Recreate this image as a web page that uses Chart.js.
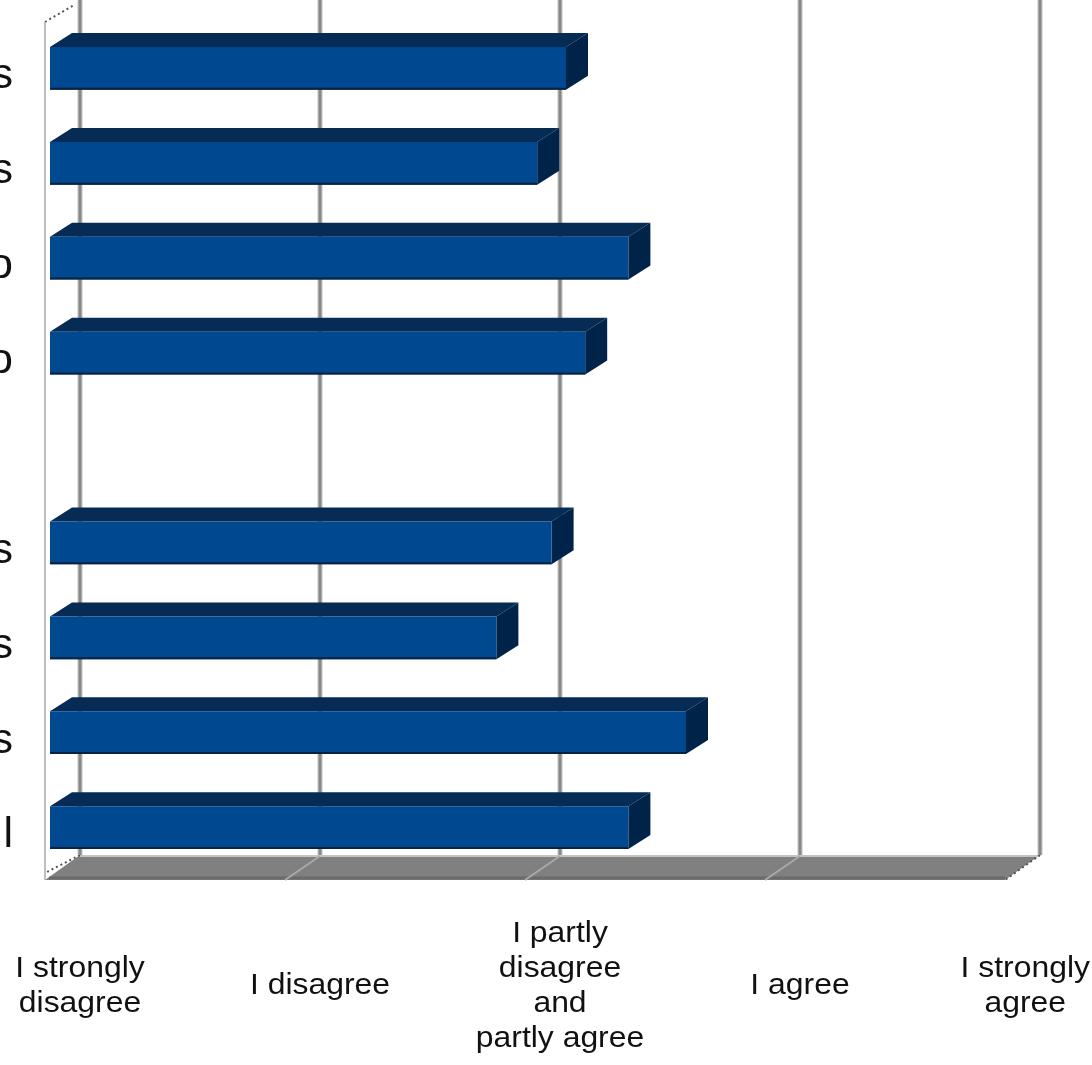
<!DOCTYPE html>
<html>
<head>
<meta charset="utf-8">
<title>Agreement ratings</title>
<script src="https://cdn.jsdelivr.net/npm/chart.js@4.4.1/dist/chart.umd.min.js"></script>
<style>
    html, body { margin: 0; padding: 0; background: #fff; }
    canvas { display: block; }
</style>
</head>
<body>
<canvas id="ratingChart" width="1092" height="1065"></canvas>
<script>
// ==========================================
// Data
// ==========================================
// statement labels (only their last letters fit at the left edge)
const statements = ["s", "s", "o", "o", "", "s", "s", "s", "l"];

// mean rating per statement, 1 = strongly disagree ... 5 = strongly agree
const meanRatings = [3.15, 3.03, 3.41, 3.23, null, 3.09, 2.86, 3.65, 3.41];

const scaleValues = [1, 2, 3, 4, 5];
const scaleLabels = [
    ["I strongly", "disagree"],
    ["I disagree"],
    ["I partly", "disagree", "and", "partly agree"],
    ["I agree"],
    ["I strongly", "agree"]
];

// ==========================================
// 3D look (walls, floor, bar sides)
// ==========================================
const WALL_DX = 30;     // back wall offset from the bar front plane
const WALL_DY = -20;
const FRONT_DX = -5;    // front edge of walls / floor
const FRONT_DY = 5;
const BAR_DX = 22;      // bar depth
const BAR_DY = -14;

const LABEL_MID = 986;
const LINE_H = 35;
const STRETCH = 1.1;

function poly(ctx, pts) {
    ctx.beginPath();
    ctx.moveTo(pts[0][0], pts[0][1]);
    for (let i = 1; i < pts.length; i++) ctx.lineTo(pts[i][0], pts[i][1]);
    ctx.closePath();
    ctx.fill();
}

function line(ctx, x1, y1, x2, y2) {
    ctx.beginPath();
    ctx.moveTo(x1, y1);
    ctx.lineTo(x2, y2);
    ctx.stroke();
}

const depthPlugin = {
    id: "depth",

    beforeDatasetsDraw(chart) {
        const ctx = chart.ctx;
        const area = chart.chartArea;
        const x = chart.scales.x;

        const backBottom = area.bottom + WALL_DY;
        const frontBottom = area.bottom + FRONT_DY;
        const leftBack = x.getPixelForValue(1) + WALL_DX;
        const leftFront = x.getPixelForValue(1) + FRONT_DX;
        const rightBack = x.getPixelForValue(5) + WALL_DX;
        const rightFront = x.getPixelForValue(5) + FRONT_DX;

        ctx.save();

        // floor
        ctx.fillStyle = "#808080";
        poly(ctx, [[leftBack, backBottom], [rightBack, backBottom],
                   [rightFront, frontBottom], [leftFront, frontBottom]]);
        ctx.strokeStyle = "#c4c4c4";
        ctx.lineWidth = 2;
        line(ctx, leftBack, backBottom + 1, rightBack, backBottom + 1);
        ctx.strokeStyle = "#6a6a6a";
        ctx.lineWidth = 3;
        line(ctx, leftFront + 4, frontBottom - 2, rightFront, frontBottom - 2);

        // floor divisions
        ctx.strokeStyle = "#a9a9a9";
        ctx.lineWidth = 2;
        scaleValues.slice(1, 4).forEach(v => {
            const px = x.getPixelForValue(v);
            line(ctx, px + WALL_DX, backBottom + 1, px + FRONT_DX, frontBottom);
        });

        // dotted side edges of the floor and left wall
        ctx.strokeStyle = "#555";
        ctx.lineWidth = 2;
        ctx.setLineDash([2, 3]);
        line(ctx, rightBack, backBottom, rightFront, frontBottom);
        line(ctx, leftBack, backBottom, leftFront + 2, frontBottom - 8);
        line(ctx, leftFront, area.top + 1, leftBack - 6, area.top - 16);
        ctx.setLineDash([]);

        // left wall front edge
        ctx.strokeStyle = "#a8a8a8";
        ctx.lineWidth = 1.5;
        line(ctx, leftFront, area.top + 1, leftFront, frontBottom);

        // back wall gridlines
        scaleValues.forEach(v => {
            const px = x.getPixelForValue(v) + WALL_DX;
            ctx.strokeStyle = "#c8c8c8";
            ctx.lineWidth = 5;
            line(ctx, px, 0, px, backBottom);
            ctx.strokeStyle = "#888";
            ctx.lineWidth = 3;
            line(ctx, px, 0, px, backBottom);
        });

        // top and right faces of each bar
        chart.getDatasetMeta(0).data.forEach((bar, i) => {
            if (meanRatings[i] === null) return;
            const p = bar.getProps(["x", "y", "base", "height"], true);
            const top = p.y - p.height / 2;
            const bottom = p.y + p.height / 2;

            ctx.fillStyle = "#062b55";
            poly(ctx, [[p.base, top], [p.base + BAR_DX, top + BAR_DY],
                       [p.x + BAR_DX, top + BAR_DY], [p.x, top]]);

            ctx.fillStyle = "#00234a";
            poly(ctx, [[p.x, top], [p.x + BAR_DX, top + BAR_DY],
                       [p.x + BAR_DX, bottom + BAR_DY], [p.x, bottom]]);
        });

        ctx.restore();
    },

    afterDatasetsDraw(chart) {
        // dark lower edge along each bar front
        const ctx = chart.ctx;
        ctx.save();
        ctx.strokeStyle = "#0a2240";
        ctx.lineWidth = 2;
        chart.getDatasetMeta(0).data.forEach((bar, i) => {
            if (meanRatings[i] === null) return;
            const p = bar.getProps(["x", "y", "base", "height"], true);
            const bottom = p.y + p.height / 2 - 1;
            line(ctx, p.base, bottom, p.x, bottom);
        });
        ctx.restore();
    },

    afterDraw(chart) {
        const ctx = chart.ctx;
        const x = chart.scales.x;

        ctx.save();
        ctx.font = '29px "Liberation Sans", Arial, sans-serif';
        ctx.fillStyle = "#111";
        ctx.textAlign = "center";
        ctx.textBaseline = "middle";

        scaleValues.forEach((v, i) => {
            const lines = scaleLabels[i];
            const w = Math.max(...lines.map(t => ctx.measureText(t).width)) * STRETCH;
            let cx = x.getPixelForValue(v) + WALL_DX;
            cx = Math.min(cx, chart.width - w / 2 - 2);
            const y0 = LABEL_MID - (lines.length - 1) * LINE_H / 2;

            lines.forEach((t, j) => {
                ctx.save();
                ctx.translate(cx, y0 + j * LINE_H);
                ctx.scale(STRETCH, 1);
                ctx.fillText(t, 0, 0);
                ctx.restore();
            });
        });

        ctx.restore();
    }
};

// ==========================================
// Chart
// ==========================================
const ctx = document.getElementById("ratingChart").getContext("2d");

new Chart(ctx, {

    type: "bar",

    data: {
        labels: statements,
        datasets: [{
            data: meanRatings,
            base: 1,
            backgroundColor: "#00488f",
            borderWidth: 0,
            barPercentage: 0.45,
            categoryPercentage: 1
        }]
    },

    options: {
        indexAxis: "y",
        responsive: false,
        devicePixelRatio: 1,
        animation: false,
        layout: {
            padding: { top: 21, bottom: 190, right: 82, left: 0 }
        },
        plugins: {
            legend: { display: false },
            tooltip: { enabled: false }
        },
        scales: {
            x: {
                type: "linear",
                min: 1,
                max: 5,
                display: false
            },
            y: {
                grid: { display: false, drawTicks: false },
                border: { display: false },
                ticks: {
                    padding: 37,
                    labelOffset: 8,
                    color: "#111",
                    font: { family: '"Liberation Sans", Arial, sans-serif', size: 43 }
                },
                afterFit(scale) {
                    scale.width = 50;
                    scale.paddingTop = 0;
                    scale.paddingBottom = 0;
                }
            }
        }
    },

    plugins: [depthPlugin]

});
</script>
</body>
</html>
